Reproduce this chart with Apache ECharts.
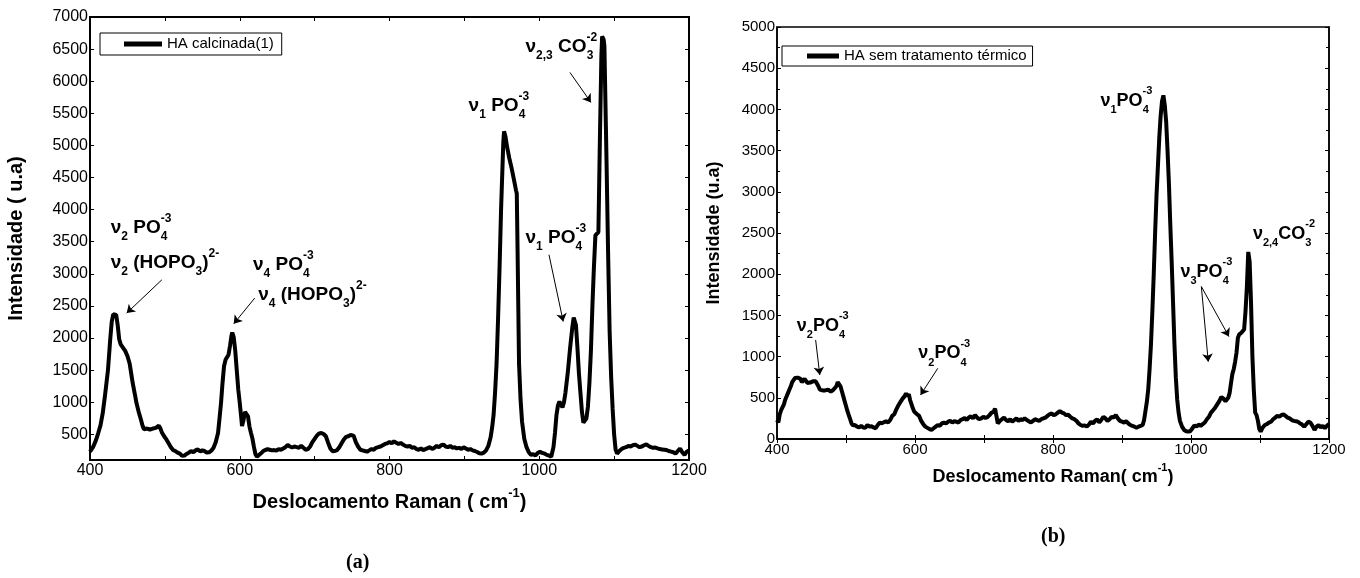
<!DOCTYPE html>
<html>
<head>
<meta charset="UTF-8">
<script src="https://cdn.jsdelivr.net/npm/echarts@6/dist/echarts.min.js"></script>
</head>
<body style="margin:0;background:#fff;">
<div id="main" style="width:1360px;height:578px;"></div>
<script type="text/javascript">

// (a) HA calcinada(1)
var shiftA = [400,404,408,411,414,417,420,424,427,429,431,433,435,437,439,441,444,447,450,453,455,457,460,462,465,468,470,472,474,476,478,480,482,484,486,488,490,492,494,496,499,502,505,508,511,514,517,520,523,526,529,532,535,538,541,544,547,550,553,556,559,562,565,568,571,573,575,577,579,581,583,585,587,589,590,592,594,596,598,600,602,603,605,607,609,611,613,615,617,619,621,623,625,628,631,634,637,640,643,646,649,652,655,658,661,664,667,670,673,676,679,682,685,688,691,694,697,700,703,706,709,712,715,718,721,724,727,730,733,736,739,742,745,748,750,752,755,758,761,764,767,770,773,776,779,782,785,788,791,794,797,800,803,806,809,812,815,818,821,824,827,830,833,836,839,842,845,848,851,854,857,860,863,866,869,872,875,878,881,884,887,890,893,896,899,902,905,908,911,914,917,920,923,926,929,932,935,937,939,941,943,945,947,949,951,952,953,955,957,960,963,966,969,970,971,972,973,975,977,980,983,986,989,992,995,998,1001,1004,1007,1010,1013,1016,1018,1019,1021,1023,1025,1027,1029,1031,1033,1035,1038,1041,1044,1046,1047,1049,1051,1053,1055,1057,1059,1061,1063,1065,1067,1069,1071,1073,1075,1077,1079,1081,1083,1084,1086,1087,1089,1090,1092,1094,1096,1098,1100,1102,1104,1107,1110,1113,1116,1119,1122,1125,1128,1131,1134,1137,1140,1143,1146,1149,1152,1155,1158,1161,1164,1167,1170,1173,1176,1179,1182,1185,1188,1191,1194,1197,1200];
var intensA = [230,300,410,520,640,830,1100,1500,1980,2250,2370,2390,2360,2200,1980,1900,1850,1800,1720,1600,1450,1300,1120,990,850,730,640,580,560,590,560,575,555,590,580,600,620,635,590,530,470,420,360,300,255,240,215,200,165,170,195,215,240,220,250,265,235,250,240,215,220,245,290,380,520,750,990,1300,1560,1660,1690,1740,1880,2040,2086,2010,1800,1500,1200,990,760,630,720,850,880,780,620,520,430,300,190,150,160,200,235,255,270,260,250,255,245,270,260,280,300,335,310,295,310,300,290,320,290,260,270,310,380,430,480,515,520,505,470,370,280,235,240,255,300,360,420,460,470,490,505,480,380,310,260,250,240,230,250,270,260,290,300,310,330,350,360,380,360,390,370,350,365,340,320,310,320,290,300,270,260,280,255,270,285,300,270,290,320,300,330,340,310,300,320,290,300,280,290,270,300,280,260,270,250,240,225,205,200,215,250,320,450,600,800,1150,1600,2300,3100,4000,4700,5050,5220,5130,4980,4800,4650,4480,4300,4250,3400,2500,1600,1050,700,430,300,220,180,190,170,210,230,210,200,180,170,150,160,300,520,800,950,1010,960,920,1000,1150,1450,1820,2150,2320,2340,2200,1850,1450,1150,850,680,650,750,930,1300,1800,2500,3100,3600,3620,3650,5100,6400,6700,6650,6550,5300,4650,3300,2100,1400,900,500,260,200,240,270,290,300,320,310,330,340,320,300,310,330,345,320,300,290,295,280,270,265,260,255,240,230,220,200,240,280,220,180,230,250];

// (b) HA sem tratamento térmico
var shiftB = [400,402,404,406,408,410,412,414,416,418,420,422,424,426,428,430,432,434,436,438,440,442,444,446,448,450,452,454,456,458,460,462,464,466,468,470,472,474,476,478,480,482,484,486,488,490,492,494,496,498,500,502,504,506,508,510,513,516,519,522,525,528,531,534,537,540,543,546,549,552,555,558,561,564,567,570,573,576,579,582,585,587,589,591,593,595,597,599,601,603,606,609,612,615,618,621,624,627,630,633,636,639,642,645,648,651,654,657,660,663,666,669,672,675,678,681,684,687,690,693,696,699,702,705,708,711,714,716,718,720,723,726,729,732,735,738,741,744,747,750,753,756,759,762,765,768,771,774,777,780,783,786,789,792,795,798,801,804,807,810,813,816,819,822,825,828,831,834,837,840,843,846,849,852,855,858,861,864,867,870,873,876,879,882,885,888,891,894,897,900,903,906,909,912,915,918,921,924,927,930,932,934,936,938,940,942,944,946,948,950,952,954,956,958,960,962,964,966,968,970,972,974,976,978,980,982,984,987,990,993,996,999,1002,1005,1008,1011,1014,1017,1020,1023,1026,1029,1032,1035,1038,1041,1044,1047,1050,1052,1054,1056,1058,1060,1062,1064,1066,1068,1070,1073,1075,1077,1079,1081,1083,1084,1085,1087,1089,1091,1093,1095,1097,1099,1101,1104,1107,1110,1113,1116,1119,1122,1125,1128,1131,1134,1137,1140,1143,1146,1149,1152,1155,1158,1161,1164,1167,1170,1173,1176,1179,1182,1185,1188,1191,1194,1197,1200];
var intensB = [230,200,300,350,330,420,480,520,560,600,640,690,710,740,755,745,750,730,690,680,730,720,680,690,685,680,700,690,700,680,640,600,580,590,600,590,580,600,590,575,590,600,610,640,690,680,640,580,520,460,400,340,290,240,190,165,170,150,140,160,140,135,170,150,155,140,130,170,200,190,205,215,200,230,280,300,360,410,450,490,520,555,520,545,470,420,370,330,310,300,280,220,180,150,135,120,110,130,150,170,160,190,200,190,210,220,200,215,210,200,230,240,255,230,260,275,250,290,260,240,250,270,255,265,290,320,330,370,280,190,220,240,260,230,215,240,210,230,250,220,240,230,250,230,215,200,220,240,230,220,240,250,260,280,300,310,290,300,320,340,320,310,290,295,270,250,240,220,190,170,160,165,150,175,210,190,220,240,200,230,270,250,220,240,270,260,290,250,220,210,200,215,190,170,160,150,135,150,160,170,230,340,450,600,850,1150,1550,2000,2500,2950,3300,3650,3920,4100,4170,4050,3850,3500,3100,2600,2150,1650,1150,750,480,320,220,150,110,95,90,95,130,165,150,175,160,180,200,240,270,320,350,380,420,460,510,490,460,450,500,560,680,790,850,940,1050,1230,1270,1290,1300,1330,1550,1850,2270,2280,2150,1650,1000,600,320,290,220,120,90,140,170,180,200,210,240,260,280,270,290,300,280,260,250,230,220,215,210,190,175,150,180,210,200,160,110,150,170,140,160,130,160,180];

// annotations: [shift, intensity, text]
var notesA = [
  [427, 3720, 'ν{sb|2} PO{sp0|-3}{sb|4}'],
  [427, 3170, 'ν{sb|2} (HOPO{sb|3}){sp|2-}'],
  [617, 3140, 'ν{sb|4} PO{sp0|-3}{sb|4}'],
  [624, 2673, 'ν{sb|4} (HOPO{sb|3}){sp|2-}'],
  [905, 5620, 'ν{sb|1} PO{sp0|-3}{sb|4}'],
  [981, 6537, 'ν{sb|2,3} CO{sp0|-2}{sb|3}'],
  [981, 3560, 'ν{sb|1} PO{sp0|-3}{sb|4}']
];
var arrowsA = [
  [[496, 2907], [449, 2388]],
  [[620, 2622], [592, 2222]],
  [[1041, 6137], [1069, 5670]],
  [[1013, 3297], [1032, 2257]]
];
var notesB = [
  [428, 1372, 'ν{sb|2}PO{sp0|-3}{sb|4}'],
  [604, 1044, 'ν{sb|2}PO{sp0|-3}{sb|4}'],
  [868, 4105, 'ν{sb|1}PO{sp0|-3}{sb|4}'],
  [984, 2028, 'ν{sb|3}PO{sp0|-3}{sb|4}'],
  [1089, 2490, 'ν{sb|2,4}CO{sp0|-2}{sb|3}']
];
var arrowsB = [
  [[456, 1202], [462, 777]],
  [[633, 858], [608, 534]],
  [[1015, 1850], [1025, 939]],
  [[1015, 1850], [1055, 1243]]
];

var font = "'Liberation Sans', Arial, sans-serif";
var chart = echarts.init(document.getElementById('main'));

function pairs(xs, ys) {
  return xs.map(function (x, i) { return [x, ys[i]]; });
}

function plain(v) { return String(v); }

function richFor(size) {
  var s = Math.round(size * 0.63);
  return {
    sb: {fontFamily: font, fontWeight: 'bold', fontSize: s, color: '#000', verticalAlign: 'bottom', lineHeight: 14},
    sp: {fontFamily: font, fontWeight: 'bold', fontSize: s, color: '#000', verticalAlign: 'top', lineHeight: 20},
    sp0: {fontFamily: font, fontWeight: 'bold', fontSize: s, color: '#000', verticalAlign: 'top', lineHeight: 20, width: 0.1}
  };
}

function notePoints(notes, size) {
  return {
    symbol: 'circle',
    symbolSize: 1,
    itemStyle: {color: 'rgba(0,0,0,0)'},
    silent: true,
    animation: false,
    label: {
      show: true, position: 'right', distance: 0,
      fontFamily: font, fontWeight: 'bold', fontSize: size, color: '#000', lineHeight: 30,
      rich: richFor(size)
    },
    data: notes.map(function (n) {
      return {coord: [n[0], n[1]], label: {formatter: n[2]}};
    })
  };
}

function arrowLines(arrows) {
  return {
    silent: true,
    animation: false,
    symbol: ['none', 'arrow'],
    symbolSize: 8,
    lineStyle: {color: '#000', width: 1, type: 'solid'},
    label: {show: false},
    data: arrows.map(function (a) { return [{coord: a[0]}, {coord: a[1]}]; })
  };
}

function xAx(grid, pos, labels, lw, fs) {
  return {
    type: 'value', gridIndex: grid, position: pos, min: 400, max: 1200, interval: 100,
    axisLine: {show: true, lineStyle: {color: '#000', width: lw}},
    axisTick: {show: true, inside: true, length: 4, lineStyle: {color: '#000', width: 1}},
    axisLabel: {show: labels, margin: 3, color: '#000', fontFamily: font, fontSize: fs,
      formatter: function (v) { return v % 200 === 0 ? String(v) : ''; }},
    splitLine: {show: false}
  };
}

var option = {
  backgroundColor: '#fff',
  animation: false,
  grid: [
    {left: 90, right: 671, top: 17, bottom: 118, show: true, borderColor: '#000', borderWidth: 2},
    {left: 777, right: 31, top: 27, bottom: 139, show: true, borderColor: '#000', borderWidth: 1.5}
  ],
  title: [
    {text: '(a)', left: 346, top: 553, padding: 0,
      textStyle: {fontFamily: "'Liberation Serif', 'Times New Roman', serif", fontWeight: 'bold', fontSize: 20, color: '#000'}},
    {text: '(b)', left: 1041, top: 527, padding: 0,
      textStyle: {fontFamily: "'Liberation Serif', 'Times New Roman', serif", fontWeight: 'bold', fontSize: 20, color: '#000'}}
  ],
  legend: [
    {data: ['HA calcinada(1)'], left: 100, top: 33, padding: [2, 8, 2, 24], borderColor: '#000', borderWidth: 1,
      itemWidth: 38, itemHeight: 5, icon: 'rect', selectedMode: false,
      textStyle: {fontFamily: font, fontSize: 15, color: '#000', lineHeight: 18}},
    {data: ['HA sem tratamento térmico'], left: 782, top: 46, padding: [1, 6, 1, 25], borderColor: '#000', borderWidth: 1,
      itemWidth: 32, itemHeight: 5, icon: 'rect', selectedMode: false,
      textStyle: {fontFamily: font, fontSize: 15, color: '#000', lineHeight: 18}}
  ],
  xAxis: [
    Object.assign(xAx(0, 'bottom', true, 2, 16), {
      name: 'Deslocamento Raman ( cm{sp|-1})', nameLocation: 'middle', nameGap: 27,
      nameTextStyle: {fontFamily: font, fontWeight: 'bold', fontSize: 20, color: '#000', lineHeight: 30, rich: richFor(20)}
    }),
    xAx(0, 'top', false, 2, 16),
    Object.assign(xAx(1, 'bottom', true, 1.5, 15), {
      name: 'Deslocamento Raman( cm{sp|-1})', nameLocation: 'middle', nameGap: 23,
      nameTextStyle: {fontFamily: font, fontWeight: 'bold', fontSize: 18, color: '#000', lineHeight: 30, rich: richFor(18)}
    }),
    xAx(1, 'top', false, 1.5, 15)
  ],
  yAxis: [
    {type: 'value', gridIndex: 0, position: 'left', min: 100, max: 7000, splitNumber: 14,
      name: 'Intensidade ( u.a)', nameLocation: 'middle', nameGap: 64,
      nameTextStyle: {fontFamily: font, fontWeight: 'bold', fontSize: 20, color: '#000'},
      axisLine: {show: true, lineStyle: {color: '#000', width: 2}},
      axisTick: {show: true, inside: true, length: 4, lineStyle: {color: '#000'}},
      axisLabel: {showMinLabel: false, margin: 2, color: '#000', fontFamily: font, fontSize: 16, formatter: plain},
      splitLine: {show: false}},
    {type: 'value', gridIndex: 0, position: 'right', min: 100, max: 7000, splitNumber: 14,
      axisLine: {show: true, lineStyle: {color: '#000', width: 2}},
      axisTick: {show: true, inside: true, length: 4, lineStyle: {color: '#000'}},
      axisLabel: {show: false}, splitLine: {show: false}},
    {type: 'value', gridIndex: 1, position: 'left', min: 0, max: 5000, interval: 500,
      name: 'Intensidade (u.a)', nameLocation: 'middle', nameGap: 54,
      nameTextStyle: {fontFamily: font, fontWeight: 'bold', fontSize: 18, color: '#000'},
      axisLine: {show: true, lineStyle: {color: '#000', width: 1.5}},
      axisTick: {show: true, inside: true, length: 4, lineStyle: {color: '#000'}},
      minorTick: {show: true, splitNumber: 2, length: 3, lineStyle: {color: '#000'}},
      axisLabel: {margin: 2, color: '#000', fontFamily: font, fontSize: 15, formatter: plain},
      splitLine: {show: false}},
    {type: 'value', gridIndex: 1, position: 'right', min: 0, max: 5000, interval: 500,
      axisLine: {show: true, lineStyle: {color: '#000', width: 1.5}},
      axisTick: {show: true, inside: true, length: 4, lineStyle: {color: '#000'}},
      minorTick: {show: true, splitNumber: 2, length: 3, lineStyle: {color: '#000'}},
      axisLabel: {show: false}, splitLine: {show: false}}
  ],
  series: [
    {name: 'HA calcinada(1)', type: 'line', xAxisIndex: 0, yAxisIndex: 0,
      data: pairs(shiftA, intensA), showSymbol: false, symbol: 'none',
      lineStyle: {color: '#000', width: 4}, itemStyle: {color: '#000'},
      markPoint: notePoints(notesA, 19), markLine: arrowLines(arrowsA)},
    {name: 'HA sem tratamento térmico', type: 'line', xAxisIndex: 2, yAxisIndex: 2,
      data: pairs(shiftB, intensB), showSymbol: false, symbol: 'none',
      lineStyle: {color: '#000', width: 4}, itemStyle: {color: '#000'},
      markPoint: notePoints(notesB, 18), markLine: arrowLines(arrowsB)}
  ]
};

chart.setOption(option);
</script>
</body>
</html>
